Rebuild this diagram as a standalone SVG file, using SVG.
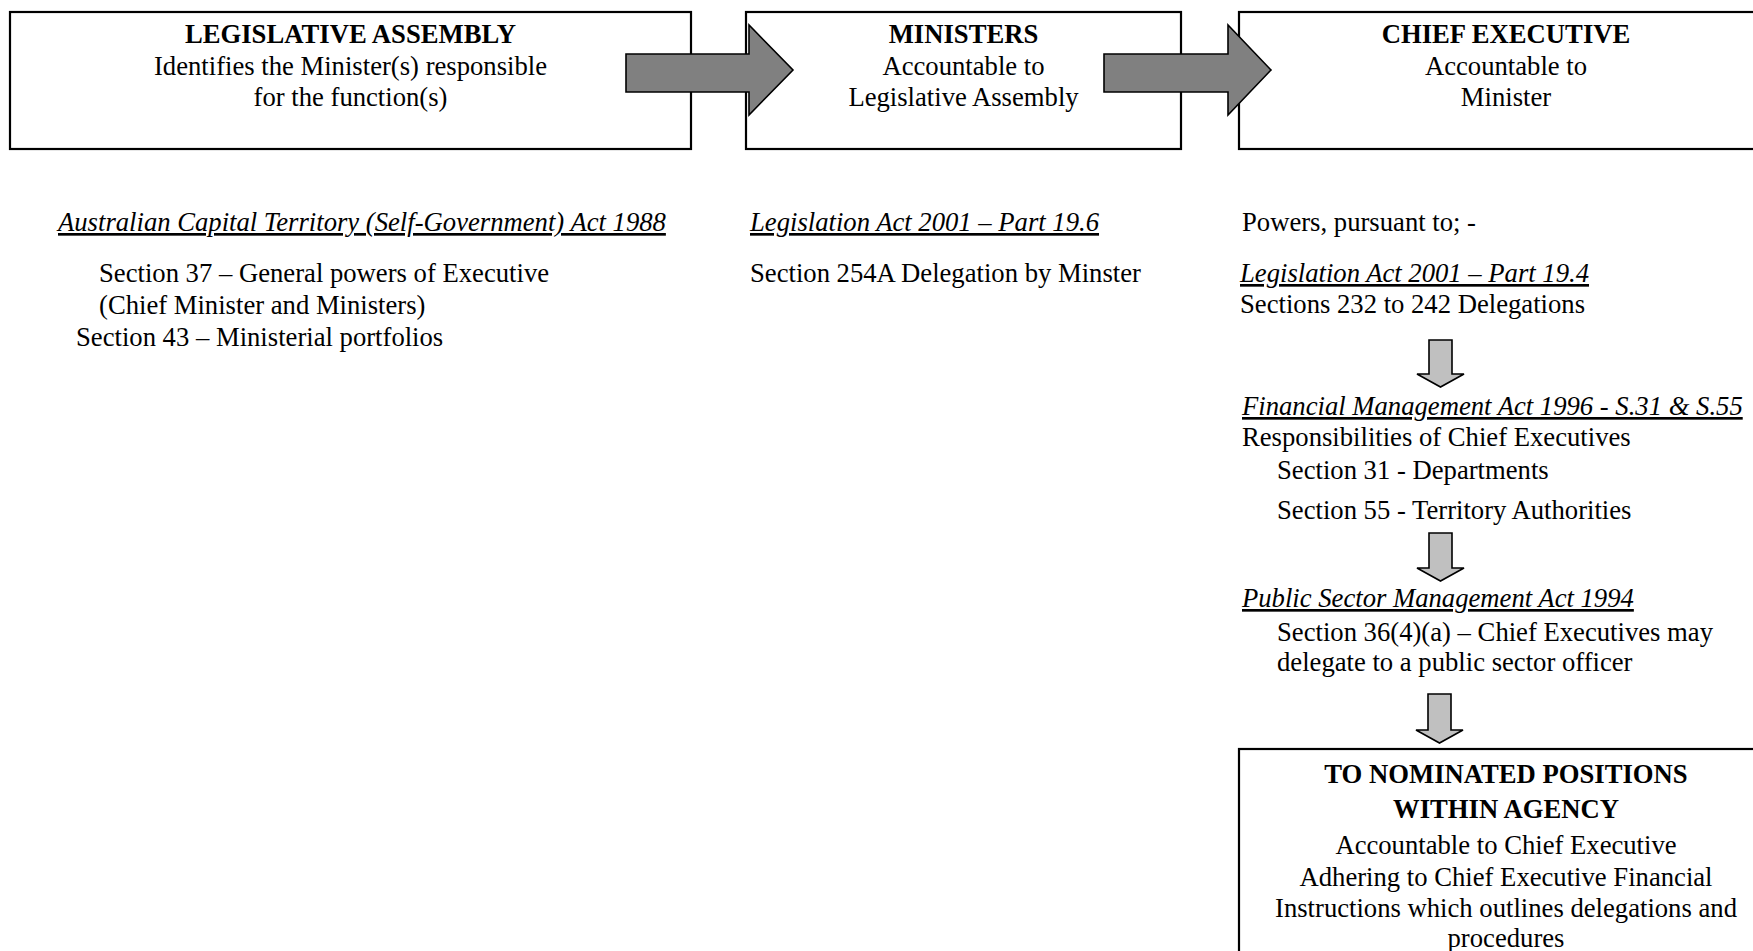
<svg xmlns="http://www.w3.org/2000/svg" width="1753" height="951" viewBox="0 0 1753 951">
<style>
text{font-family:"Liberation Serif","Times New Roman",serif;font-size:26.67px;fill:#000}
.b{font-weight:bold}
.c{text-anchor:middle}
.u{font-style:italic;text-decoration:underline}
.box{fill:#fff;stroke:#000;stroke-width:2.2}
.ra{fill:#808080;stroke:#000;stroke-width:1.6}
.da{fill:#c0c0c0;stroke:#000;stroke-width:1.6}
</style>
<rect width="1753" height="951" fill="#fff"/>
<g id="legislative-assembly">
<rect class="box" x="10" y="12" width="681" height="137"/>
<text class="b c" x="350.5" y="43">LEGISLATIVE ASSEMBLY</text>
<text class="c" x="350.5" y="75">Identifies the Minister(s) responsible</text>
<text class="c" x="350.5" y="106">for the function(s)</text>
</g>
<g id="ministers">
<rect class="box" x="746" y="12" width="435" height="137"/>
<text class="b c" x="963.5" y="43">MINISTERS</text>
<text class="c" x="963.5" y="75">Accountable to</text>
<text class="c" x="963.5" y="106">Legislative Assembly</text>
</g>
<g id="chief-executive">
<rect class="box" x="1239" y="12" width="540" height="137"/>
<text class="b c" x="1506" y="43">CHIEF EXECUTIVE</text>
<text class="c" x="1506" y="75">Accountable to</text>
<text class="c" x="1506" y="106">Minister</text>
</g>
<g id="nominated-positions">
<rect class="box" x="1239" y="749" width="540" height="220"/>
<text class="b c" x="1506" y="783">TO NOMINATED POSITIONS</text>
<text class="b c" x="1506" y="818">WITHIN AGENCY</text>
<text class="c" x="1506" y="854">Accountable to Chief Executive</text>
<text class="c" x="1506" y="886">Adhering to Chief Executive Financial</text>
<text class="c" x="1506" y="917">Instructions which outlines delegations and</text>
<text class="c" x="1506" y="947">procedures</text>
</g>
<g id="connectors">
<path class="ra" d="M626,54 H749 V25 L793,70 L749,115 V92 H626 Z"/>
<path class="ra" d="M1104,54 H1228 V25 L1271,70 L1228,115 V92 H1104 Z"/>
<path class="da" d="M1429,340 H1452 V374 H1464 L1440.5,387 L1417,374 H1429 Z"/>
<path class="da" d="M1429,533 H1452 V568 H1464 L1440.5,581 L1417,568 H1429 Z"/>
<path class="da" d="M1428,694 H1451 V730 H1463 L1439.5,743 L1416,730 H1428 Z"/>
</g>
<g id="notes-left">
<text class="u" x="58" y="231">Australian Capital Territory (Self-Government) Act 1988 </text>
<text x="99" y="282">Section 37 – General powers of Executive</text>
<text x="99" y="314">(Chief Minister and Ministers)</text>
<text x="76" y="346">Section 43 – Ministerial portfolios</text>
</g>
<g id="notes-middle">
<text class="u" x="750" y="231">Legislation Act 2001 – Part 19.6</text>
<text x="750" y="282">Section 254A Delegation by Minster</text>
</g>
<g id="notes-right">
<text x="1242" y="231">Powers, pursuant to; -</text>
<text class="u" x="1240" y="282">Legislation Act 2001 – Part 19.4</text>
<text x="1240" y="313">Sections 232 to 242 Delegations</text>
<text class="u" x="1242" y="415">Financial Management Act 1996 - S.31 &amp; S.55</text>
<text x="1242" y="446">Responsibilities of Chief Executives</text>
<text x="1277" y="479">Section 31 - Departments</text>
<text x="1277" y="519">Section 55 - Territory Authorities</text>
<text class="u" x="1242" y="607">Public Sector Management Act 1994</text>
<text x="1277" y="641">Section 36(4)(a) – Chief Executives may</text>
<text x="1277" y="671">delegate to a public sector officer</text>
</g>
</svg>
